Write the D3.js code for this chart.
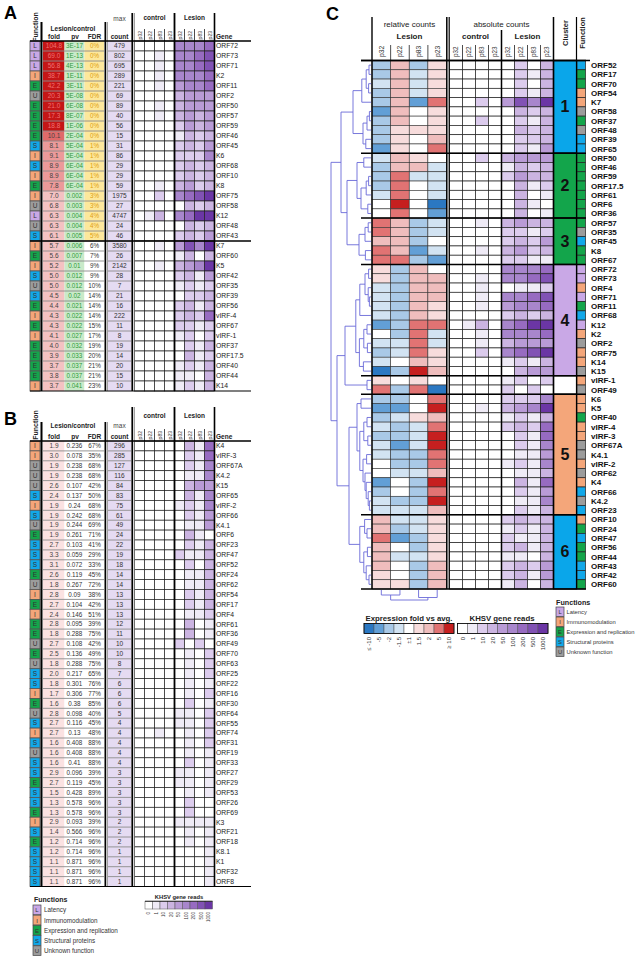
<!DOCTYPE html>
<html><head><meta charset="utf-8">
<script src="https://cdn.jsdelivr.net/npm/d3@7"></script>
<style>body{margin:0;background:#fff} text{font-family:"Liberation Sans",Arial,sans-serif}</style>
</head><body><svg id="c" width="640" height="959"></svg>
<script>
// ---------------- DATA ----------------
const samples = ["p32","p22","p83","p23"];
const funcCodes = ["L","I","E","S","U"];
const funcNames = ["Latency","Immunomodulation","Expression and replication","Structural proteins","Unknown function"];
const readTicks = ["0","1","10","20","50","100","200","500","1000"];
const foldTicks = ["\u2264 -10","-5","-2","-1.5","\u00b11","1.5","2","5","\u2265 10"];

// Panel A (reads levels: index into readTicks; 4 control + 4 lesion)
const genesA = ["ORF72","ORF73","ORF71","K2","ORF11","ORF2","ORF50","ORF57","ORF59","ORF46","ORF45","K6","ORF68","ORF10","K8","ORF75","ORF58","K12","ORF48","ORF43","K7","ORF60","K5","ORF42","ORF35","ORF39","ORF56","vIRF-4","ORF67","vIRF-1","ORF37","ORF17.5","ORF40","ORF44","K14"];
const funcA = "LLLIEUEEEESISIEIULUSIEISUSEIEIEEEEI".split("");
const foldA = [104.8,69.0,56.8,38.7,42.2,20.3,21.0,17.3,18.8,10.1,8.1,9.1,8.9,8.9,7.8,7.0,6.8,6.3,6.3,6.1,5.7,5.6,5.2,5.0,5.0,4.5,4.4,4.3,4.3,4.1,4.0,3.9,3.7,3.8,3.7];
const pvA = ["3E-17","1E-13","4E-13","1E-11","3E-11","5E-08","6E-08","8E-07","1E-06","2E-04","5E-04","5E-04","6E-04","6E-04","6E-04","0.002","0.003","0.004","0.004","0.005","0.006","0.007","0.01","0.012","0.012","0.02","0.021","0.022","0.022","0.027","0.032","0.033","0.037","0.037","0.041"];
const fdrA = [0,0,0,0,0,0,0,0,0,0,1,1,1,1,1,3,3,4,4,5,6,7,9,9,10,14,14,14,15,17,19,20,21,21,23];
const maxA = [479,802,695,289,221,69,89,40,56,15,31,86,29,29,59,1975,27,4747,24,46,3580,26,2142,28,7,21,16,222,11,8,19,14,20,15,10];
const readsA = ["00005556","00105567","00105567","00105556","00104556","00003444","00103444","00103434","00002434","00001323","00002324","00002225","00002323","00002323","00103423","00205678","00000323","01305688","00000323","00002324","00104758","00001303","00103458","00002314","00001212","00000223","00002313","00002326","00002212","00001202","00000213","00000312","00001213","00001103","00001213"];

// Panel B
const genesB = ["K4","vIRF-3","ORF67A","K4.2","K15","ORF65","vIRF-2","ORF66","K4.1","ORF6","ORF23","ORF47","ORF52","ORF24","ORF62","ORF54","ORF17","ORF4","ORF61","ORF36","ORF49","ORF70","ORF63","ORF25","ORF22","ORF16","ORF30","ORF64","ORF55","ORF74","ORF31","ORF19","ORF33","ORF27","ORF29","ORF53","ORF26","ORF69","K3","ORF21","ORF18","K8.1","K1","ORF32","ORF8"];
const funcB = "IIUUUSISUESSSEUIEIEEUEUSSIEUSISUSSESSEISESSSS".split("");
const foldB = [1.9,3.0,1.9,1.9,2.6,2.4,1.9,1.9,1.9,1.9,2.7,3.3,3.1,2.6,1.8,2.8,2.7,2.4,2.8,1.8,2.7,2.5,1.8,2.0,1.8,1.7,1.6,2.8,2.7,2.7,1.6,1.6,1.6,2.9,2.7,1.5,1.3,1.3,2.9,1.4,1.2,1.2,1.1,1.1,1.1];
const pvB = ["0.236","0.078","0.238","0.238","0.107","0.137","0.24","0.242","0.244","0.261","0.103","0.059","0.072","0.119","0.267","0.09","0.104","0.146","0.095","0.288","0.108","0.136","0.288","0.217","0.301","0.306","0.38","0.098","0.116","0.13","0.408","0.408","0.41","0.096","0.119","0.428","0.578","0.578","0.093","0.566","0.714","0.714","0.871","0.871","0.871"];
const fdrB = [67,35,68,68,42,50,68,68,69,71,41,29,33,45,72,38,42,51,39,75,42,49,75,65,76,77,85,40,45,48,88,88,88,39,45,89,96,96,39,96,96,96,96,96,96];
const maxB = [296,285,127,116,84,83,75,61,49,24,22,19,18,14,14,13,13,13,12,11,10,10,8,7,6,6,6,5,4,4,4,4,4,3,3,3,3,3,2,2,2,1,1,1,1];
const readsB = ["00000316","00000216","00000215","00000115","00000344","00000315","00001215","00000214","00000114","00000310","00000213","00002113","00000203","00000113","00000113","00000213","00000213","00000112","00000301","00000301","00002020","00000102","00000102","00000102","00000101","00000102","00000201","00001102","00001102","00100102","00000102","00000101","00000201","00001101","00001101","00000101","00000200","00000200","00001111","00000101","00000101","00000001","00000001","00000001","00000001"];

// Panel C (relative: index into foldTicks; absolute: index into readTicks)
const genesC = ["ORF52","ORF17","ORF70","ORF54","K7","ORF58","ORF37","ORF48","ORF39","ORF65","ORF50","ORF46","ORF59","ORF17.5","ORF61","ORF6","ORF36","ORF57","ORF35","ORF45","K8","ORF67","ORF72","ORF73","ORF4","ORF71","ORF11","ORF68","K12","K2","ORF2","ORF75","K14","K15","vIRF-1","ORF49","K6","K5","ORF40","vIRF-4","vIRF-3","ORF67A","K4.1","vIRF-2","ORF62","K4","ORF66","K4.2","ORF23","ORF10","ORF24","ORF47","ORF56","ORF44","ORF43","ORF42","ORF60"];
const clusterC = "1111111111222222233333444444444444005555555555555666666666".split("");
const funcC = ("SEEIIUEUSS"+"EEEEEEE"+"EUSEE"+"LLILESLIUIIU"+"IU"+"IIEIIUUIUISUS"+"IESEESSE").split("");
const relC = ["2625","2635","3635","2635","2617","1645","2645","2555","2546","1547",
 "3654","2663","2733","2743","3743","4840","4741",
 "7623","7623","6624","7613","7721",
 "5264","5266","3266","3266","3265","3265","1277","4273","3373","2375","3465","0286",
 "5454","7270",
 "2247","1148","2356","3237","2238","3138","3227","4227","4336","1428","2427","3228","3336",
 "6335","6235","7125","6425","6335","6426","5426","5526"];
const absC = ["00000203","00000213","00000203","00000213","00204758","00000323","00200213","00000323","00000223","00000214",
 "00203444","00001323","00002433","00000312","00000301","00000310","00000301",
 "00103433","00002212","00002324","00103423","00002211",
 "00005556","00105567","00100112","00105567","00104556","00002323","01305688","00105556","00103444","00205678","00001213","00000344",
 "00001202","00002020",
 "00002225","00103458","00001213","00002326","00000216","00000215","00000114","00001215","00000113","00000316","00000214","00000115","00000213",
 "00002323","00001213","00002113","00002313","00001103","00002324","00002314","00001303"];
// row dendrogram: [height, left, right]
const rowTree = [10,
  [7.5,
    [4.5, [2.3, [1.2, [0.5,"ORF52","ORF17"], [0.6,"ORF70","ORF54"]], "K7"], [2.0, [1.0, [0.4,"ORF58","ORF37"], "ORF48"], [1.3,"ORF39","ORF65"]]],
    [6.0,
      [3.5, [1.8,"ORF50","ORF46"], [2.5, [1.2, [0.6,"ORF59","ORF17.5"], "ORF61"], [0.8,"ORF6","ORF36"]]],
      [3.0, [1.5, [0.7,"ORF57","ORF35"], "ORF45"], [1.4,"K8","ORF67"]]]],
  [8.5,
    [6.5,
      [3.8, [2.8, [1.5, [0.6,"ORF72","ORF73"], [0.7,"ORF4",[0.4,"ORF71","ORF11"]]], "ORF68"], [2.9, [1.8, [1.0,"K12","K2"], [0.9,"ORF2","ORF75"]], [1.9,"K14","K15"]]],
      [1.0,"vIRF-1","ORF49"]],
    [5.5,
      [3.5, [2.5,"K6","K5"], [2.8, [1.8, [1.0,"ORF40","vIRF-4"], [0.8,"vIRF-3","ORF67A"]], [2.0, [1.1,"K4.1","vIRF-2"], [1.5,"ORF62",[1.2,"K4",[0.7,"ORF66",[0.4,"K4.2","ORF23"]]]]]]],
      [2.8, [1.6,"ORF10",[1.0,"ORF24","ORF47"]], [1.8, [0.9,"ORF56","ORF44"], [1.2,"ORF43",[0.5,"ORF42","ORF60"]]]]]]];
const colTree = [2.0, [1.0,"p32","p22"], [1.5,"p83","p23"]];

// ---------------- SCALES ----------------
const svg = d3.select("#c");
const FONT = '"Liberation Sans",Arial,sans-serif';
const fcol = d3.scaleOrdinal().domain(funcCodes).range(["#c9a8e6","#f4a67a","#14a54b","#12a8e9","#9c9c9c"]);
const readCol = d3.scaleOrdinal().domain(d3.range(9)).range(["#ffffff","#efebf6","#dccced","#cbb4e1","#b99bd6","#a886cc","#976bc1","#8152b4","#6b36a5"]);
const relCol = d3.scaleOrdinal().domain(d3.range(9)).range(["#2b78c2","#629fd6","#a9c9e7","#d2e3f2","#ffffff","#f7dcdc","#efbdbd","#e17373","#c61f1f"]);
const foldCol = d3.scaleThreshold().domain([3.5,7.5,10,15]).range(["#fbe2e2","#f4c2c2","#ec9a9a","#e06a6a","#c41616"]);
const clusterCol = d3.scaleOrdinal().domain(["0","1","2","3","4","5","6"]).range(["#ffffff","#0aa6ea","#13a54b","#13a54b","#c9a8e6","#f4a67a","#0aa6ea"]);

function line(g,x1,y1,x2,y2,w,c){g.append("line").attr("x1",x1).attr("y1",y1).attr("x2",x2).attr("y2",y2).attr("stroke",c||"#000").attr("stroke-width",w||1);}
function txt(g,x,y,s,o){const t=g.append("text").attr("x",x).attr("y",y).text(s).attr("font-size",o.size||7).attr("text-anchor",o.anchor||"middle").attr("fill",o.fill||"#222");if(o.bold)t.attr("font-weight","bold");if(o.rot)t.attr("transform",`rotate(-90,${x},${y})`);if(o.family)t.attr("font-family",o.family);return t;}

// ---------------- TABLES A & B ----------------
function drawTable(c){
  const g = svg.append("g");
  const n = c.genes.length;
  const y = d3.scaleBand().domain(d3.range(n)).range([c.y0, c.y0+n*c.rowH]);
  const hx = d3.scaleBand().domain(d3.range(8)).range([134.5,214.5]);
  const yb = c.y0+n*c.rowH;
  const rows = g.selectAll("g.r").data(d3.range(n)).join("g");
  // function
  rows.append("rect").attr("x",30).attr("y",i=>y(i)).attr("width",10).attr("height",c.rowH).attr("fill",i=>fcol(c.funcs[i])).attr("stroke","#555").attr("stroke-width",0.8);
  rows.append("text").attr("x",35).attr("y",i=>y(i)+c.rowH/2+2.3).text(i=>c.funcs[i]).attr("font-size",6.5).attr("text-anchor","middle").attr("fill","#333");
  // fold
  rows.append("rect").attr("x",43).attr("y",i=>y(i)).attr("width",21.5).attr("height",c.rowH).attr("fill",i=>foldCol(c.folds[i]));
  rows.append("text").attr("x",54).attr("y",i=>y(i)+c.rowH/2+2.3).text(i=>c.folds[i].toFixed(1)).attr("font-size",6.5).attr("text-anchor","middle").attr("fill",i=>c.folds[i]>=15?"#f07070":"#444");
  // pv
  rows.append("rect").attr("x",64.5).attr("y",i=>y(i)).attr("width",20).attr("height",c.rowH).attr("fill",c.pvFill);
  rows.append("text").attr("x",74.5).attr("y",i=>y(i)+c.rowH/2+2.3).text(i=>c.pvs[i]).attr("font-size",6.3).attr("text-anchor","middle").attr("fill",c.pvText);
  // fdr
  rows.append("rect").attr("x",84.5).attr("y",i=>y(i)).attr("width",19.5).attr("height",c.rowH).attr("fill",i=>c.fdrs[i]<=5?"#fde89c":"#ffffff");
  rows.append("text").attr("x",94.5).attr("y",i=>y(i)+c.rowH/2+2.3).text(i=>c.fdrs[i]+"%").attr("font-size",6.3).attr("text-anchor","middle").attr("fill",i=>c.fdrs[i]<=5?"#e0a010":"#333");
  // count
  rows.append("rect").attr("x",108).attr("y",i=>y(i)).attr("width",23).attr("height",c.rowH).attr("fill","#e5dbf2");
  rows.append("text").attr("x",119.5).attr("y",i=>y(i)+c.rowH/2+2.3).text(i=>c.maxs[i]).attr("font-size",6.5).attr("text-anchor","middle").attr("fill","#333");
  // heat cells
  rows.each(function(i){
    d3.select(this).selectAll("rect.h").data(c.reads[i].split("").map(Number)).join("rect")
      .attr("x",(d,j)=>hx(j)).attr("y",y(i)).attr("width",hx.bandwidth()).attr("height",c.rowH)
      .attr("fill",d=>readCol(d)).attr("stroke","#222").attr("stroke-width",0.7);
  });
  // genes
  rows.append("text").attr("x",216).attr("y",i=>y(i)+c.rowH/2+2.4).text(i=>c.genes[i]).attr("font-size",6.8).attr("text-anchor","start").attr("fill","#222");
  // row separators in table columns
  d3.range(1,n).forEach(i=>{ line(g,43,y(i),104,y(i),0.9,"#8a8a8a"); line(g,108,y(i),131,y(i),0.9,"#8a8a8a"); });
  // vertical lines
  const h=c.hdr;
  line(g,41.5,c.y0+h.lcTop,41.5,yb,2); line(g,105.3,c.y0+h.lcTop,105.3,yb,1.6); line(g,107.2,c.y0+h.lcTop,107.2,yb,1,"#777");
  line(g,132.2,c.y0+h.grpTop,132.2,yb,1.6); line(g,134.2,c.y0+h.grpTop,134.2,yb,1,"#777");
  line(g,174.5,c.y0+h.grpTop,174.5,yb,1.8); line(g,214.5,c.y0+h.grpTop,214.5,yb,1.6);
  [1,2,3,5,6,7].forEach(j=>line(g,hx(j),c.y0-12,hx(j),c.y0,0.7));
  line(g,30,c.y0,251,c.y0,1.4); line(g,30,yb,251,yb,1.2);
  if(c.sep) line(g,30,y(c.sep),251,y(c.sep),1.4);
  // header text
  txt(g,37.5,c.y0+h.func,"Function",{size:7,bold:true,rot:true});
  txt(g,73,c.y0+h.lc,"Lesion/control",{size:6.5,bold:true});
  txt(g,54,c.y0-2.5,"fold",{size:6.5,bold:true}); txt(g,75,c.y0-2.5,"pv",{size:6.5,bold:true}); txt(g,94.5,c.y0-2.5,"FDR",{size:6.5,bold:true});
  txt(g,119.5,c.y0+h.max,"max",{size:6.5,fill:"#444"}); txt(g,119.5,c.y0-2.5,"count",{size:6.5,bold:true});
  txt(g,154.5,c.y0+h.grp,"control",{size:6.5,bold:true}); txt(g,194.5,c.y0+h.grp,"Lesion",{size:6.5,bold:true});
  txt(g,216,c.y0-2.5,"Gene",{size:6.5,bold:true,anchor:"start"});
  d3.range(8).forEach(j=>txt(g,hx(j)+hx.bandwidth()/2+2,c.y0-1.5,samples[j%4],{size:5.2,anchor:"start",rot:true,fill:"#444"}));
}
drawTable({y0:41,rowH:10,genes:genesA,funcs:funcA,folds:foldA,pvs:pvA,fdrs:fdrA,maxs:maxA,reads:readsA,pvFill:"#c9eac9",pvText:"#2f9a3a",sep:20,
  hdr:{func:-14,lc:-10.5,max:-20,grp:-21,grpTop:-28,lcTop:-19}});
drawTable({y0:441,rowH:9.9,genes:genesB,funcs:funcB,folds:foldB,pvs:pvB,fdrs:fdrB,maxs:maxB,reads:readsB,pvFill:"#ffffff",pvText:"#333",sep:0,
  hdr:{func:-16,lc:-13,max:-13,grp:-23,grpTop:-34,lcTop:-19}});

// panel letters
txt(svg,4,19,"A",{size:18,bold:true,anchor:"start",family:'"Liberation Serif",serif',fill:"#000"});
txt(svg,4,425,"B",{size:18,bold:true,anchor:"start",family:'"Liberation Serif",serif',fill:"#000"});
txt(svg,326,20,"C",{size:18,bold:true,anchor:"start",family:'"Liberation Serif",serif',fill:"#000"});

// legends bottom-left
(function(){
  const g=svg.append("g");
  txt(g,34,902,"Functions",{size:7,bold:true,anchor:"start"});
  const ly=d3.scaleBand().domain(funcCodes).range([905,956]);
  funcCodes.forEach((f,i)=>{
    g.append("rect").attr("x",33).attr("y",ly(f)).attr("width",8).attr("height",ly.bandwidth()-0.5).attr("fill",fcol(f)).attr("stroke","#444").attr("stroke-width",0.7);
    txt(g,37,ly(f)+7.3,f,{size:6,fill:"#333"});
    txt(g,44,ly(f)+7.3,funcNames[i],{size:6.3,anchor:"start",fill:"#333"});
  });
  const kx=d3.scaleBand().domain(d3.range(9)).range([145,212.5]);
  txt(g,179,899,"KHSV gene reads",{size:5.8,bold:true});
  d3.range(9).forEach(i=>{
    g.append("rect").attr("x",kx(i)).attr("y",901.5).attr("width",kx.bandwidth()).attr("height",7.5).attr("fill",readCol(i)).attr("stroke","#555").attr("stroke-width",0.5);
    txt(g,kx(i)+kx.bandwidth()/2+1.5,912,readTicks[i],{size:4.5,anchor:"end",rot:true,fill:"#333"});
  });
  line(g,145,901.2,212.5,901.2,0.8);
})();

// ---------------- PANEL C ----------------
(function(){
  const g=svg.append("g");
  const n=genesC.length;
  const y=d3.scaleBand().domain(genesC).range([60.5,589]);
  const rh=y.bandwidth();
  const rx=d3.scaleBand().domain(samples).range([372,446.5]);
  const ax=d3.scaleBand().domain(d3.range(8)).range([449.5,553.5]);
  genesC.forEach((gene,i)=>{
    relC[i].split("").map(Number).forEach((v,j)=>g.append("rect").attr("x",rx(samples[j])).attr("y",y(gene)).attr("width",rx.bandwidth()).attr("height",rh).attr("fill",relCol(v)).attr("stroke","#333").attr("stroke-width",0.6));
    absC[i].split("").map(Number).forEach((v,j)=>g.append("rect").attr("x",ax(j)).attr("y",y(gene)).attr("width",ax.bandwidth()).attr("height",rh).attr("fill",readCol(v)).attr("stroke","#222").attr("stroke-width",0.7));
    g.append("rect").attr("x",577).attr("y",y(gene)).attr("width",8.5).attr("height",rh).attr("fill",fcol(funcC[i])).attr("stroke","#222").attr("stroke-width",0.7);
    txt(g,591,y(gene)+rh/2+3,gene,{size:8,bold:true,anchor:"start",fill:"#111"});
  });
  // clusters
  const groups=d3.groups(genesC.map((gname,i)=>({gname,c:clusterC[i]})),d=>d.c);
  groups.forEach(([c,arr])=>{
    const y1=y(arr[0].gname), y2=y(arr[arr.length-1].gname)+rh;
    g.append("rect").attr("x",553.5).attr("y",y1).attr("width",23).attr("height",y2-y1).attr("fill",clusterCol(c)).attr("stroke","#000").attr("stroke-width",1.2);
    if(c!=="0") txt(g,565,(y1+y2)/2+5.5,c,{size:16,bold:true,fill:"#111"});
    line(g,361,y1,586,y1,1.5);
  });
  line(g,361,589,586,589,1.5);
  // vertical lines
  line(g,372,17,372,589,1.4); line(g,446.8,17,446.8,589,1.5); line(g,449.2,17,449.2,589,1.2);
  line(g,501.5,30,501.5,589,1.5); line(g,553.5,17,553.5,589,1.5); line(g,576.5,17,576.5,60.5,1.2);
  [1,2,3].forEach(j=>line(g,rx(samples[j]),45,rx(samples[j]),60.5,0.7));
  [1,2,3,5,6,7].forEach(j=>line(g,ax(j),45,ax(j),60.5,0.7));
  line(g,361,60.5,590,60.5,1.6);
  // headers
  txt(g,409.5,27,"relative counts",{size:8,fill:"#222"});
  txt(g,409.5,39,"Lesion",{size:8,bold:true});
  txt(g,501.5,27,"absolute counts",{size:8,fill:"#222"});
  txt(g,475.5,39,"control",{size:8,bold:true}); txt(g,527.5,39,"Lesion",{size:8,bold:true});
  samples.forEach(s=>txt(g,rx(s)+rx.bandwidth()/2+2.5,57,s,{size:6.8,anchor:"start",rot:true,fill:"#333"}));
  d3.range(8).forEach(j=>txt(g,ax(j)+ax.bandwidth()/2+2.3,57,samples[j%4],{size:6.3,anchor:"start",rot:true,fill:"#333"}));
  txt(g,568,33,"Cluster",{size:7.5,bold:true,rot:true});
  txt(g,584.5,33,"Function",{size:7.5,bold:true,rot:true});

  // dendrograms
  function dendro(tree,leafPos,hs,vertical){
    const root=d3.hierarchy(tree,d=>Array.isArray(d)?d.slice(1):null);
    root.eachAfter(nd=>{ if(!nd.children){nd.p=leafPos(nd.data);nd.h=0;} else {nd.h=nd.data[0];nd.p=(nd.children[0].p+nd.children[nd.children.length-1].p)/2;} });
    const segs=[];
    root.each(nd=>{ if(nd.children){ segs.push([nd.h,nd.children[0].p,nd.h,nd.children[nd.children.length-1].p]); nd.children.forEach(ch=>segs.push([nd.h,ch.p,ch.h,ch.p])); } });
    segs.forEach(s=>{
      if(!vertical) line(g,hs(s[0]),s[1],hs(s[2]),s[3],0.9,"#6a6ad8");
      else line(g,s[1],hs(s[0]),s[3],hs(s[2]),0.9,"#6a6ad8");
    });
  }
  dendro(rowTree,name=>y(name)+rh/2,d3.scaleLinear().domain([0,10]).range([371,331]),false);
  dendro(colTree,s=>rx(s)+rx.bandwidth()/2,d3.scaleLinear().domain([0,2]).range([590,600]),true);

  // legends
  const fx=d3.scaleBand().domain(d3.range(9)).range([364,454]);
  txt(g,409,621,"Expression fold vs avg.",{size:7.8,bold:true});
  d3.range(9).forEach(i=>{
    g.append("rect").attr("x",fx(i)).attr("y",623.5).attr("width",fx.bandwidth()).attr("height",10).attr("fill",relCol(i)).attr("stroke","#555").attr("stroke-width",0.5);
    txt(g,fx(i)+fx.bandwidth()/2+2,637,foldTicks[i],{size:6,anchor:"end",rot:true,fill:"#333"});
  });
  g.append("rect").attr("x",364).attr("y",623.5).attr("width",90).attr("height",10).attr("fill","none").attr("stroke","#000").attr("stroke-width",0.8);
  const kx=d3.scaleBand().domain(d3.range(9)).range([457.5,548]);
  txt(g,502,621,"KHSV gene reads",{size:7.8,bold:true});
  d3.range(9).forEach(i=>{
    g.append("rect").attr("x",kx(i)).attr("y",623.5).attr("width",kx.bandwidth()).attr("height",10).attr("fill",readCol(i)).attr("stroke","#555").attr("stroke-width",0.5);
    txt(g,kx(i)+kx.bandwidth()/2+2,637,readTicks[i],{size:6,anchor:"end",rot:true,fill:"#333"});
  });
  g.append("rect").attr("x",457.5).attr("y",623.5).attr("width",90.5).attr("height",10).attr("fill","none").attr("stroke","#000").attr("stroke-width",0.8);
  txt(g,556,605,"Functions",{size:7.2,bold:true,anchor:"start"});
  const ly=d3.scaleBand().domain(funcCodes).range([607,657]);
  funcCodes.forEach((f,i)=>{
    g.append("rect").attr("x",556).attr("y",ly(f)).attr("width",8).attr("height",ly.bandwidth()-0.5).attr("fill",fcol(f)).attr("stroke","#444").attr("stroke-width",0.7);
    txt(g,560,ly(f)+7,f,{size:5.8,fill:"#333"});
    txt(g,566.5,ly(f)+7,funcNames[i],{size:5.8,anchor:"start",fill:"#333"});
  });
})();
</script></body></html>
